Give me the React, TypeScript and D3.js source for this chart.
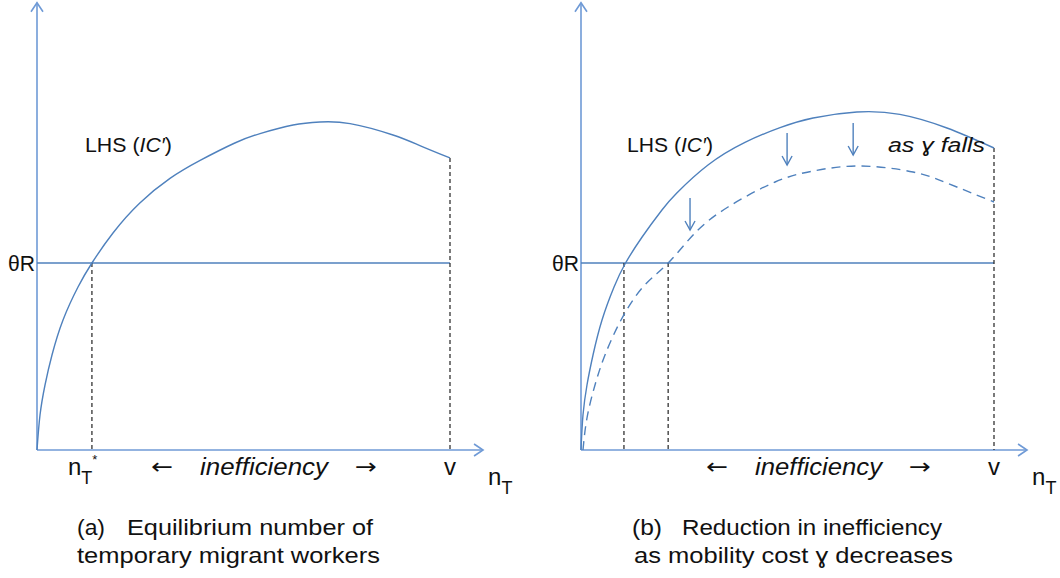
import * as d3 from "d3";

// x: share of V (0..100), y: payoff units (0..100)
const V = 100;
const thetaR = 46.75;
const nStarA = 13.3;
const nStarB = [10.4, 21.1];

// LHS (IC') curve, panel (a)
const curveAx = [0, 0.73, 1.94, 3.63, 6.3, 9.93, 13.3, 18.4, 24.9, 32.2, 39.5, 47.9, 54, 62, 68.5, 75.8, 86.2, 92.7, 100];
const curveAy = [0, 8.75, 16.25, 23.75, 32.5, 40.75, 46.75, 54.25, 61.75, 67.9, 72.4, 76.75, 79.1, 81.25, 82, 81.6, 78.75, 76.1, 73];

// panel (b): original curve and the lower one after gamma falls
const curveBx = [0, 0.48, 1.45, 2.91, 5.09, 8.0, 10.65, 14.8, 19.6, 23.2, 30.75, 39.7, 48.2, 56.2, 66.8, 77.2, 88.6, 100];
const curveBy = [0, 8.75, 16.25, 23.75, 32.5, 40.75, 46.5, 53.25, 60, 64.25, 71.25, 76.9, 80.6, 83, 84.5, 83.9, 80.5, 75.5];
const shiftedx = [0.48, 1.45, 3.39, 5.81, 9.69, 15.0, 21.1, 27.6, 35.6, 47.0, 56.2, 67.6, 80.4, 88.6, 100];
const shiftedy = [0, 8, 16.25, 23.75, 32.5, 40.75, 46.75, 54.25, 60.75, 67, 69.75, 71, 69.5, 66.75, 62];

// downward arrows: x, from y, to y
const arrowX = [26.4, 49.9, 65.9];
const arrowTop = [63, 79.25, 81.75];
const arrowBot = [55, 71.25, 73.75];

const AXIS = "#6f9ad6";
const LINE = "#4f81bd";
const FONT = "'Liberation Sans', Arial, sans-serif";

const pts = (xs: number[], ys: number[]) => xs.map((x, i) => [x, ys[i]] as [number, number]);

function T({ x, y, size, w, italic, anchor, font, children }: any) {
  return (
    <text
      x={x}
      y={y}
      fontSize={size}
      fontFamily={font || FONT}
      fontStyle={italic ? "italic" : undefined}
      textAnchor={anchor}
      textLength={w}
      lengthAdjust={w ? "spacingAndGlyphs" : undefined}
      fill="#111"
    >
      {children}
    </text>
  );
}

function Panel({ left, curves, drops, arrows, children }: any) {
  const x = d3.scaleLinear().domain([0, V]).range([left, left + 413]);
  const y = d3.scaleLinear().domain([0, 100]).range([450, 50]);
  const line = d3
    .line<[number, number]>()
    .x((d) => x(d[0]))
    .y((d) => y(d[1]))
    .curve(d3.curveNatural);
  const x0 = x(0), y0 = y(0);
  const xTip = x(108), yTip = y(111.8);
  return (
    <g>
      {/* axes */}
      <line x1={x0} y1={y0} x2={x0} y2={yTip} stroke={AXIS} strokeWidth={1.6} />
      <path d={`M${x0 - 6},${yTip + 9}L${x0},${yTip}L${x0 + 6},${yTip + 9}`} fill="none" stroke={AXIS} strokeWidth={1.6} />
      <line x1={x0} y1={y0} x2={xTip} y2={y0} stroke={AXIS} strokeWidth={1.6} />
      <path d={`M${xTip - 9},${y0 - 6}L${xTip},${y0}L${xTip - 9},${y0 + 6}`} fill="none" stroke={AXIS} strokeWidth={1.6} />
      {/* theta R */}
      <line x1={x0} y1={y(thetaR)} x2={x(V)} y2={y(thetaR)} stroke={LINE} strokeWidth={1.6} />
      {/* dashed drops */}
      {drops.map((d: number[], i: number) => (
        <line key={i} x1={x(d[0])} y1={y(d[1])} x2={x(d[0])} y2={y0} stroke="#222" strokeWidth={1.2} strokeDasharray="4,3" />
      ))}
      {curves.map((c: any, i: number) => (
        <path key={i} d={line(c.pts) || ""} fill="none" stroke={LINE} strokeWidth={1.4} strokeDasharray={c.dash ? "9,6" : undefined} />
      ))}
      {arrows.map((a: number[], i: number) => (
        <g key={i} stroke={LINE} strokeWidth={1.4} fill="none">
          <line x1={x(a[0])} y1={y(a[1])} x2={x(a[0])} y2={y(a[2])} />
          <path d={`M${x(a[0]) - 5},${y(a[2]) - 9}L${x(a[0])},${y(a[2])}L${x(a[0]) + 5},${y(a[2]) - 9}`} />
        </g>
      ))}
      <T x={x0 - 29} y={y(thetaR) + 8} size={22} w={27}>θR</T>
      <T x={x(V)} y={475} size={24} anchor="middle">v</T>
      <text x={xTip + 5} y={485} fontSize={24} fontFamily={FONT} fill="#111">
        n<tspan fontSize={18} dy={9}>T</tspan>
      </text>
      {children}
    </g>
  );
}

export default function App() {
  return (
    <svg width={1060} height={578} style={{ position: "absolute", left: 0, top: 0, background: "#fff" }}>
      <Panel
        left={37}
        curves={[{ pts: pts(curveAx, curveAy) }]}
        drops={[[nStarA, thetaR], [V, curveAy[curveAy.length - 1]]]}
        arrows={[]}
      >
        <T x={85} y={152} size={20} w={87}>
          LHS (<tspan fontStyle="italic">IC′</tspan>)
        </T>
        <text x={68} y={475} fontSize={24} fontFamily={FONT} fill="#111">
          n<tspan fontSize={18} dy={9}>T</tspan>
          <tspan fontSize={13} dy={-20}>*</tspan>
        </text>
        <T x={151} y={474} size={22} w={22} font="'DejaVu Sans', sans-serif">←</T>
        <T x={200} y={475} size={24} w={128} italic>inefficiency</T>
        <T x={355} y={474} size={22} w={22} font="'DejaVu Sans', sans-serif">→</T>
        <T x={77} y={535} size={22} w={28}>(a)</T>
        <T x={127} y={535} size={22} w={246}>Equilibrium number of</T>
        <T x={77} y={563} size={22} w={303}>temporary migrant workers</T>
      </Panel>
      <Panel
        left={581}
        curves={[{ pts: pts(curveBx, curveBy) }, { pts: pts(shiftedx, shiftedy), dash: true }]}
        drops={[[nStarB[0], thetaR], [nStarB[1], thetaR], [V, curveBy[curveBy.length - 1]]]}
        arrows={arrowX.map((a, i) => [a, arrowTop[i], arrowBot[i]])}
      >
        <T x={627} y={152} size={20} w={86}>
          LHS (<tspan fontStyle="italic">IC′</tspan>)
        </T>
        <T x={888} y={152} size={20} w={97} italic>as ɣ falls</T>
        <T x={706} y={474} size={22} w={22} font="'DejaVu Sans', sans-serif">←</T>
        <T x={755} y={475} size={24} w={127} italic>inefficiency</T>
        <T x={909} y={474} size={22} w={22} font="'DejaVu Sans', sans-serif">→</T>
        <T x={632} y={535} size={22} w={30}>(b)</T>
        <T x={682} y={535} size={22} w={260}>Reduction in inefficiency</T>
        <T x={634} y={563} size={22} w={319}>as mobility cost ɣ decreases</T>
      </Panel>
    </svg>
  );
}
